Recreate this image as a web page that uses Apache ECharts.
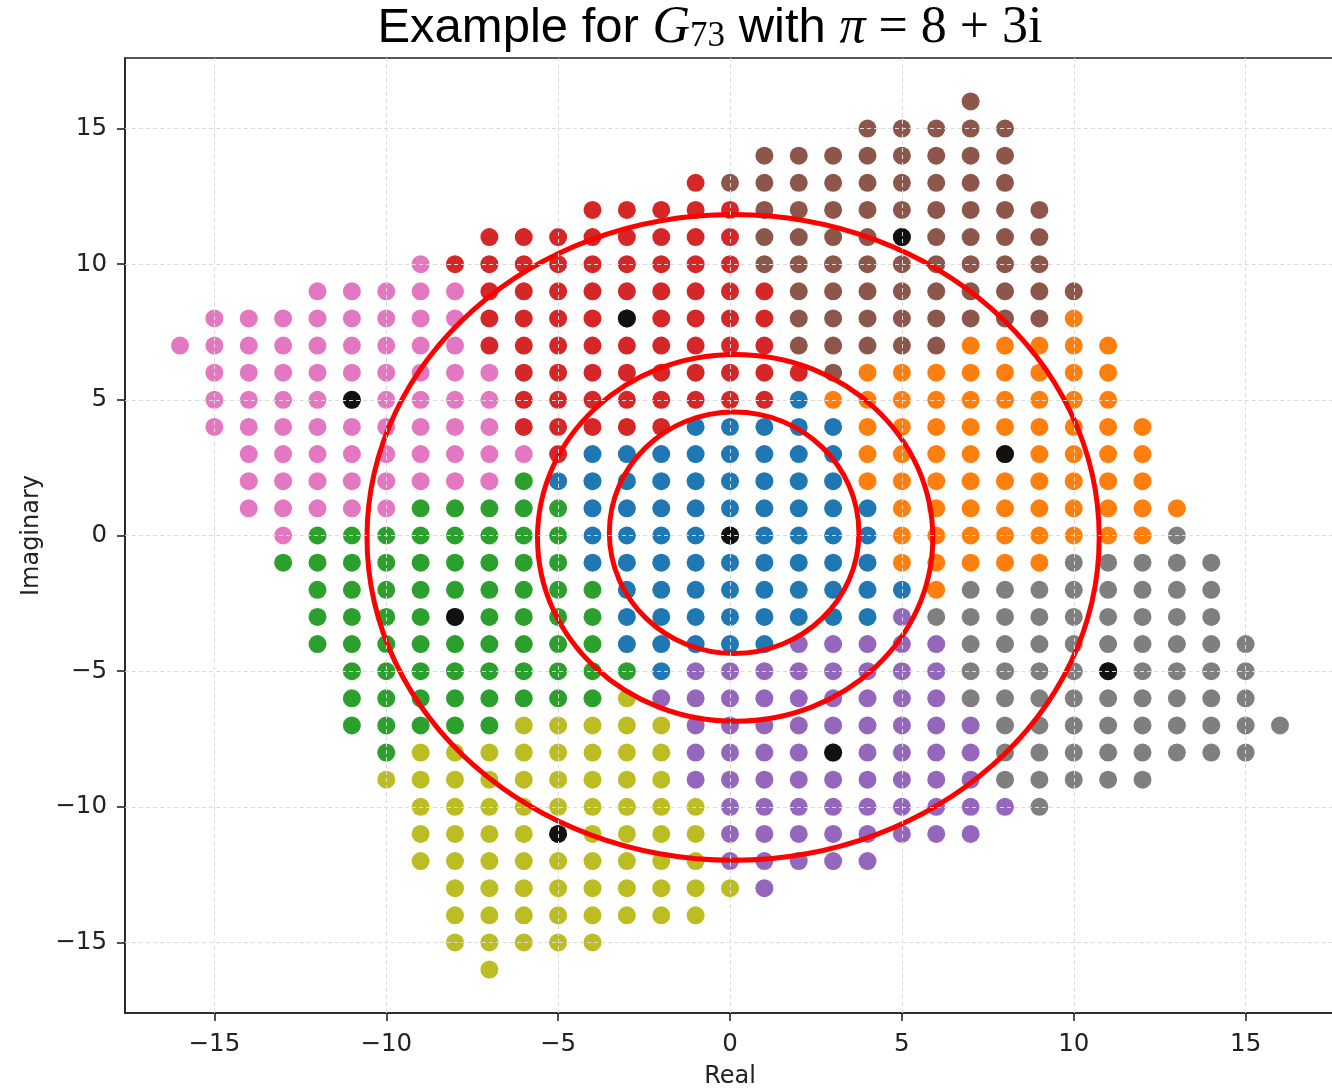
<!DOCTYPE html>
<html>
<head>
<meta charset="utf-8">
<script src="https://cdn.jsdelivr.net/npm/echarts@6/dist/echarts.min.js"></script>
<style>html,body{margin:0;padding:0;background:#fff;}#c{width:1332px;height:1088px;}</style>
</head>
<body>
<div id="c"></div>
<script>
// Tick labels
const xTicks = [-15, -10, -5, 0, 5, 10, 15];
const yTicks = [-15, -10, -5, 0, 5, 10, 15];

// Each region: rows of [imag (y), first real (x), last real (x)]
const blueRows   = [[5,2,2],[4,-1,3],[3,-4,3],[2,-5,3],[1,-4,4],[0,-4,4],[-1,-4,4],[-2,-3,5],[-3,-3,4],[-4,-3,1],[-5,-2,-2]];
const orangeRows = [[8,10,10],[7,7,11],[6,4,11],[5,3,11],[4,4,12],[3,4,12],[2,4,12],[1,5,13],[0,5,12],[-1,5,9],[-2,6,6]];
const brownRows  = [[16,7,7],[15,4,8],[14,1,8],[13,0,8],[12,1,9],[11,1,9],[10,1,9],[9,2,10],[8,2,9],[7,2,6],[6,3,3]];
const redRows    = [[13,-1,-1],[12,-4,0],[11,-7,0],[10,-8,0],[9,-7,1],[8,-7,1],[7,-7,1],[6,-6,2],[5,-6,1],[4,-6,-2],[3,-5,-5]];
const pinkRows   = [[10,-9,-9],[9,-12,-8],[8,-15,-8],[7,-16,-8],[6,-15,-7],[5,-15,-7],[4,-15,-7],[3,-14,-6],[2,-14,-7],[1,-14,-10],[0,-13,-13]];
const greenRows  = [[2,-6,-6],[1,-9,-5],[0,-12,-5],[-1,-13,-5],[-2,-12,-4],[-3,-12,-4],[-4,-12,-4],[-5,-11,-3],[-6,-11,-4],[-7,-11,-7],[-8,-10,-10]];
const oliveRows  = [[-6,-3,-3],[-7,-6,-2],[-8,-9,-2],[-9,-10,-2],[-10,-9,-1],[-11,-9,-1],[-12,-9,-1],[-13,-8,0],[-14,-8,-1],[-15,-8,-4],[-16,-7,-7]];
const purpleRows = [[-3,5,5],[-4,2,6],[-5,-1,6],[-6,-2,6],[-7,-1,7],[-8,-1,7],[-9,-1,7],[-10,0,8],[-11,0,7],[-12,0,4],[-13,1,1]];
const grayRows   = [[0,13,13],[-1,10,14],[-2,7,14],[-3,6,14],[-4,7,15],[-5,7,15],[-6,7,15],[-7,8,16],[-8,8,15],[-9,8,12],[-10,9,9]];

// Black marked points (multiples of pi)
const centers = [[0,0],[8,3],[5,11],[-3,8],[-11,5],[-8,-3],[-5,-11],[3,-8],[11,-5]];

// Red rings: [center real, center imag, radius real, radius imag]
const rings = [[0.12,0.10,3.63,4.45],[0.15,-0.09,5.75,6.76],[0.09,-0.07,10.65,11.9]];

const regions = [
  {rows: blueRows,   color: '#1f77b4'},
  {rows: orangeRows, color: '#ff7f0e'},
  {rows: brownRows,  color: '#8c564b'},
  {rows: redRows,    color: '#d62728'},
  {rows: pinkRows,   color: '#e377c2'},
  {rows: greenRows,  color: '#2ca02c'},
  {rows: oliveRows,  color: '#bcbd22'},
  {rows: purpleRows, color: '#9467bd'},
  {rows: grayRows,   color: '#7f7f7f'}
];

function expand(rows) {
  const pts = [];
  rows.forEach(function (r) {
    for (let x = r[1]; x <= r[2]; x++) pts.push([x, r[0]]);
  });
  return pts;
}

const fmt = function (v) { return String(v).replace('-', '\u2212'); };

const series = [];
// grid lines
series.push({
  type: 'scatter', data: [], z: 1, silent: true,
  markLine: {
    silent: true, symbol: 'none', animation: false,
    label: {show: false},
    lineStyle: {color: '#dcdcdc', width: 1, type: [4, 3]},
    data: xTicks.map(function (v) { return {xAxis: v}; }).concat(yTicks.map(function (v) { return {yAxis: v}; }))
  }
});
regions.forEach(function (reg) {
  series.push({
    type: 'scatter', z: 2, symbolSize: 18, animation: false,
    itemStyle: {color: reg.color, opacity: 1},
    data: expand(reg.rows)
  });
});
series.push({
  type: 'scatter', z: 3, symbolSize: 18, animation: false,
  itemStyle: {color: '#111111', opacity: 1},
  data: centers
});
series.push({
  type: 'custom', z: 4, animation: false, silent: true,
  data: rings,
  renderItem: function (params, api) {
    const c = api.coord([api.value(0), api.value(1)]);
    const s = api.size([api.value(2), api.value(3)]);
    return {
      type: 'ellipse',
      shape: {cx: c[0], cy: c[1], rx: s[0], ry: s[1]},
      style: {fill: 'none', stroke: '#ff0000', lineWidth: 5}
    };
  }
});

const chart = echarts.init(document.getElementById('c'), null, {renderer: 'canvas'});
chart.setOption({
  backgroundColor: '#ffffff',
  animation: false,
  grid: {left: 125, top: 58, right: -3, bottom: 75, show: true, borderColor: '#222', borderWidth: 1.6,
         backgroundColor: 'transparent', containLabel: false, outerBoundsMode: 'none'},
  xAxis: {
    type: 'value', min: -17.6, max: 17.6,
    name: 'Real', nameLocation: 'middle', nameGap: 52,
    nameTextStyle: {fontFamily: 'DejaVu Sans', fontSize: 24, color: '#222'},
    axisLine: {show: true, onZero: false, lineStyle: {color: '#222', width: 1.6}},
    axisTick: {show: true, customValues: xTicks, length: 8, lineStyle: {color: '#222', width: 1.6}},
    axisLabel: {customValues: xTicks, formatter: fmt, fontFamily: 'DejaVu Sans', fontSize: 24.5, color: '#222', margin: 19},
    splitLine: {show: false}
  },
  yAxis: {
    type: 'value', min: -17.6, max: 17.6,
    name: 'Imaginary', nameLocation: 'middle', nameGap: 81,
    nameTextStyle: {fontFamily: 'DejaVu Sans', fontSize: 24, color: '#222'},
    axisLine: {show: true, onZero: false, lineStyle: {color: '#222', width: 1.6}},
    axisTick: {show: true, customValues: yTicks, length: 8, lineStyle: {color: '#222', width: 1.6}},
    axisLabel: {customValues: yTicks, formatter: fmt, fontFamily: 'DejaVu Sans', fontSize: 24.5, color: '#222', margin: 18},
    splitLine: {show: false}
  },
  graphic: [{
    type: 'text', x: 710, y: 28, z: 10,
    style: {
      text: '{a|Example for }{m|G}{s|73}{a| with }{m|\u03c0}{r| = 8 + 3i}',
      align: 'center', verticalAlign: 'middle',
      rich: {
        a: {fontFamily: 'Liberation Sans', fontSize: 49, fill: '#000', lineHeight: 54},
        m: {fontFamily: 'Liberation Serif', fontStyle: 'italic', fontSize: 52, fill: '#000', lineHeight: 54},
        s: {fontFamily: 'Liberation Serif', fontSize: 35, fill: '#000', lineHeight: 54, padding: [18, 0, 0, 0]},
        r: {fontFamily: 'Liberation Serif', fontSize: 52, fill: '#000', lineHeight: 54}
      }
    }
  }],
  series: series
});
</script>
</body>
</html>
